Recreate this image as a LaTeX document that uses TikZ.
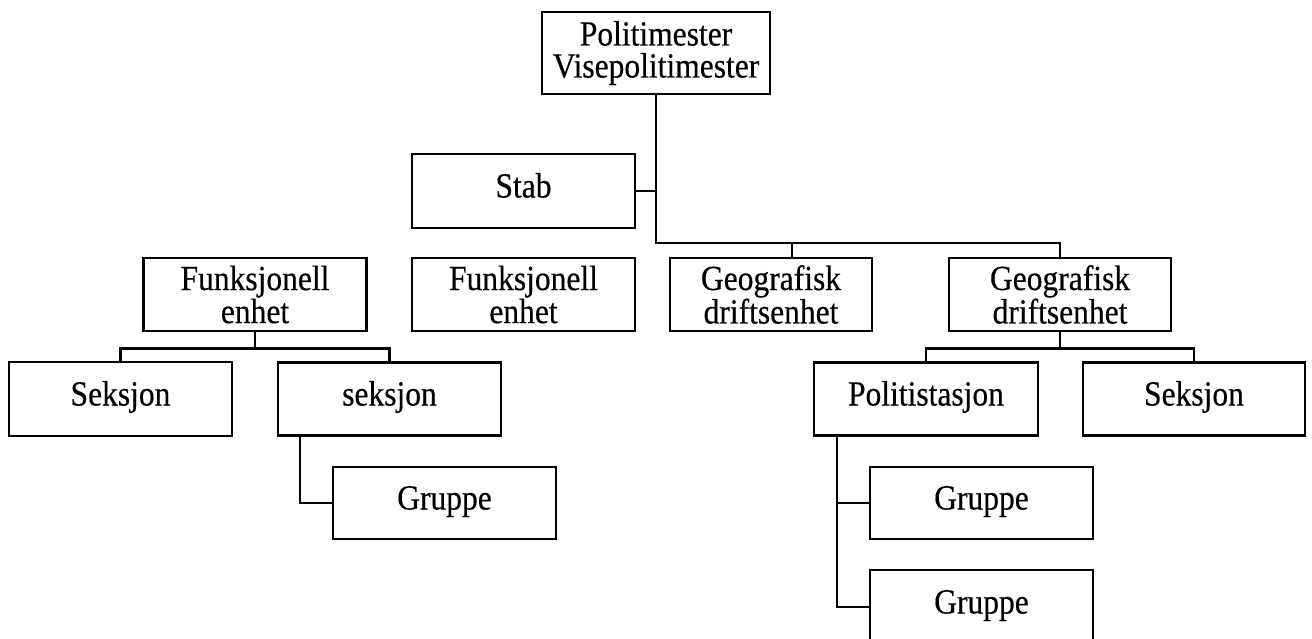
\documentclass[tikz,border=0pt]{standalone}
\usepackage{fontspec}
\setmainfont{Liberation Serif}
\newfontfamily\reffont[FakeStretch=0.893,FakeBold=0.4]{Liberation Serif}
\begin{document}
\begin{tikzpicture}[x=1pt,y=-1pt,
  box/.style={draw, line width=2.6pt, inner sep=0pt, minimum width=223pt, minimum height=73pt, align=center, font=\reffont\fontsize{35.3}{32}\selectfont},
  one/.style={text height=21pt, text depth=8pt},
  link/.style={line width=2.6pt}]
\useasboundingbox (0,0) rectangle (1312,638);
\clip (0,0) rectangle (1312,638);
\node[box, minimum width=228pt, minimum height=82pt] (top) at (656,53) {Politimester\\Visepolitimester};
\node[box, one, minimum height=74pt] (stab) at (523.5,191) {Stab};
\node[box] (fe1) at (255,294.5) {Funksjonell\\enhet};
\node[box] (fe2) at (523.5,294.5) {Funksjonell\\enhet};
\node[box, minimum width=202pt] (geo1) at (771,294.5) {Geografisk\\driftsenhet};
\node[box, minimum width=222pt] (geo2) at (1060,294.5) {Geografisk\\driftsenhet};
\node[box, one, minimum height=74pt] (sek1) at (120.5,399) {Seksjon};
\node[box, one] (sek2) at (389.5,399) {seksjon};
\node[box, one, minimum width=224pt] (pol) at (926,399) {Politistasjon};
\node[box, one, minimum width=222pt] (sek3) at (1194,399) {Seksjon};
\node[box, one, minimum height=72pt] (grp1) at (444.5,503) {Gruppe};
\node[box, one, minimum height=72pt] (grp2) at (981.5,503) {Gruppe};
\node[box, one, minimum height=74pt] (grp3) at (981.5,607) {Gruppe};
% top level connectors
\coordinate (bus) at (792,243);
\draw[link] (top.south) |- (bus) -| (geo2.north);
\draw[link] (bus) -- (bus |- geo1.north);
\draw[link] (stab.east) -- (stab.east -| top.south);
% Funksjonell enhet
\coordinate (f1bus) at ([yshift=-16pt]fe1.south);
\draw[link] (fe1.south) -- (f1bus);
\draw[link] (sek1.north) |- (f1bus) -| (sek2.north);
\coordinate (s2v) at (300,0);
\draw[link] (s2v |- sek2.south) |- (grp1.west);
% Geografisk driftsenhet
\coordinate (g2bus) at ([yshift=-16pt]geo2.south);
\draw[link] (geo2.south) -- (g2bus);
\draw[link] (pol.north) |- (g2bus) -| (sek3.north);
\coordinate (pv) at (837,0);
\draw[link] (pv |- pol.south) |- (grp3.west);
\draw[link] (pv |- grp2.west) -- (grp2.west);
\end{tikzpicture}
\end{document}
